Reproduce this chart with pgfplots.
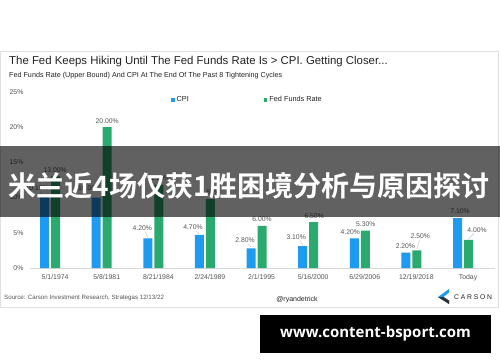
\documentclass[border=0pt]{standalone}
\usepackage{pgfplots}
\pgfplotsset{compat=1.18}
\usepackage{fontspec}
\setmainfont{Liberation Sans}
\newfontfamily\cjk{Noto Sans CJK SC}[BoldFont={Noto Sans CJK SC Bold}]
\newfontfamily\wm{Open Sans}
\definecolor{cpi}{HTML}{1E9BF0}
\definecolor{fed}{HTML}{2BAA70}
\definecolor{labgray}{HTML}{555555}
\definecolor{titlec}{HTML}{222222}
\newcommand\lbl[4]{\node[datalbl] at ([xshift=#3pt,yshift=#4pt]axis cs:#1,#2) {#2\%};}
\newcommand\lead[6]{\draw[leader] ([xshift=#3pt,yshift=1pt]axis cs:#1,#2) -- ([xshift=#5pt,yshift=#6pt]axis cs:#1,#2);}
\begin{document}
\begin{tikzpicture}[x=1pt,y=1pt,
  datalbl/.style={font=\fontsize{6.8}{8}\selectfont, text=labgray, inner sep=0pt},
  leader/.style={draw=gray!60, line width=0.3pt}]
\useasboundingbox (0,0) rectangle (500,362);
\fill[white] (0,0) rectangle (500,362);
\draw[black!12, line width=0.8pt] (0.5,55) rectangle (498.5,311);
\node[anchor=west, text=titlec, inner sep=0pt] at (9,300) {\fontsize{11.4}{13}\selectfont The Fed Keeps Hiking Until The Fed Funds Rate Is > CPI. Getting Closer...};
\node[anchor=west, text=titlec, inner sep=0pt] at (9,286) {\fontsize{7.2}{8}\selectfont Fed Funds Rate (Upper Bound) And CPI At The End Of The Past 8 Tightening Cycles};
\begin{axis}[
  at={(30pt,94pt)}, anchor=south west,
  scale only axis, width=465pt, height=176pt,
  xmin=-0.39, xmax=8.62, ymin=0, ymax=25,
  ybar=2pt, bar width=9pt,
  axis lines*=left,
  y axis line style={draw=none},
  x axis line style={draw=black!15, line width=0.6pt},
  major tick length=0pt,
  xtick={0,...,8},
  xticklabels={5/1/1974,5/8/1981,8/21/1984,2/24/1989,2/1/1995,5/16/2000,6/29/2006,12/19/2018,Today},
  ytick={0,5,10,15,20,25},
  yticklabel={\pgfmathprintnumber{\tick}\%},
  /pgf/number format/assume math mode=true,
  tick label style={font=\fontsize{6.9}{8}\selectfont, text=labgray},
  xticklabel style={xshift=5pt, yshift=-3pt},
  yticklabel style={xshift=-3pt},
  clip=false,
  legend style={at={(axis description cs:0.303,0.955)}, anchor=west, draw=none, fill=none,
    font=\fontsize{7.3}{8}\selectfont, text=titlec, legend columns=2, inner sep=0pt,
    /tikz/every even column/.append style={column sep=73pt}},
  legend cell align=left,
]
\addplot[ybar, fill=cpi, draw=none, legend image code/.code={\fill[cpi] (0pt,-1.8pt) rectangle (3.6pt,1.8pt);}]
  coordinates {(0,10.10) (1,10.00) (2,4.20) (3,4.70) (4,2.80) (5,3.10) (6,4.20) (7,2.20) (8,7.10)};
\addlegendentry{CPI}
\addplot[ybar, fill=fed, draw=none, legend image code/.code={\fill[fed] (0pt,-1.8pt) rectangle (3.6pt,1.8pt);}]
  coordinates {(0,13.00) (1,20.00) (2,11.80) (3,9.80) (4,6.00) (5,6.50) (6,5.30) (7,2.50) (8,4.00)};
\addlegendentry{Fed Funds Rate}
% CPI labels
\lbl{0}{10.10}{-13}{9}
\lbl{1}{10.00}{-12}{9}
\lbl{2}{4.20}{-11}{10}
\lbl{3}{4.70}{-12}{7.5}
\lbl{4}{2.80}{-11.5}{8}
\lbl{5}{3.10}{-12}{9}
\lbl{6}{4.20}{-9.5}{6}
\lbl{7}{2.20}{-6}{6.5}
\lbl{8}{7.10}{-3}{7}
% Fed labels
\lbl{0}{13.00}{5}{6.5}
\lbl{1}{20.00}{5.5}{6.5}
\lbl{2}{11.80}{5.5}{6.5}
\lbl{3}{9.80}{5.5}{6.5}
\lbl{4}{6.00}{5.5}{6.5}
\lbl{5}{6.50}{6}{6}
\lbl{6}{5.30}{6}{6.5}
\lbl{7}{2.50}{9}{14}
\lbl{8}{4.00}{14}{10}
% leader lines
\lead{0}{10.10}{-5.5}{}{-10}{5}
\lead{2}{4.20}{-5.5}{}{-8}{6.5}
\lead{3}{4.70}{-5.5}{}{-9}{4}
\lead{4}{2.80}{-5.5}{}{-8}{4.5}
\lead{5}{3.10}{-5.5}{}{-8.5}{5.5}
\lead{7}{2.50}{5.5}{}{8}{10.5}
\lead{8}{4.00}{5.5}{}{11}{6.5}
\end{axis}
% footer
\node[anchor=west, text=labgray, inner sep=0pt] at (4,64) {\fontsize{6.2}{7}\selectfont Source: Carson Investment Research, Strategas 12/13/22};
\node[text=titlec, inner sep=0pt] at (297,62) {\fontsize{7}{8}\selectfont @ryandetrick};
\fill[cpi] (449,73) -- (438,65) -- (449,58) -- (449,61.5) -- (443.5,65) -- (449,69.5) -- cycle;
\fill[black!80] (438,65) -- (443.5,65) -- (449,61.5) -- (449,58) -- cycle;
\node[anchor=west, text=titlec, inner sep=0pt] at (454,65.3) {\fontsize{6.8}{7}\selectfont\addfontfeature{LetterSpace=26}CARSON};
% banner overlay
\fill[black, opacity=0.62] (0,145) rectangle (500,216);
\node[text=white, inner sep=0pt] at (249,176) {\cjk\bfseries\fontsize{28}{30}\selectfont 米兰近4场仅获1胜困境分析与原因探讨};
% watermark
\fill[black] (260,9) rectangle (491,47);
\node[text=white, inner sep=0pt] at (375.5,28) {\wm\bfseries\fontsize{15}{17}\selectfont www.content-bsport.com};
\end{tikzpicture}
\end{document}
